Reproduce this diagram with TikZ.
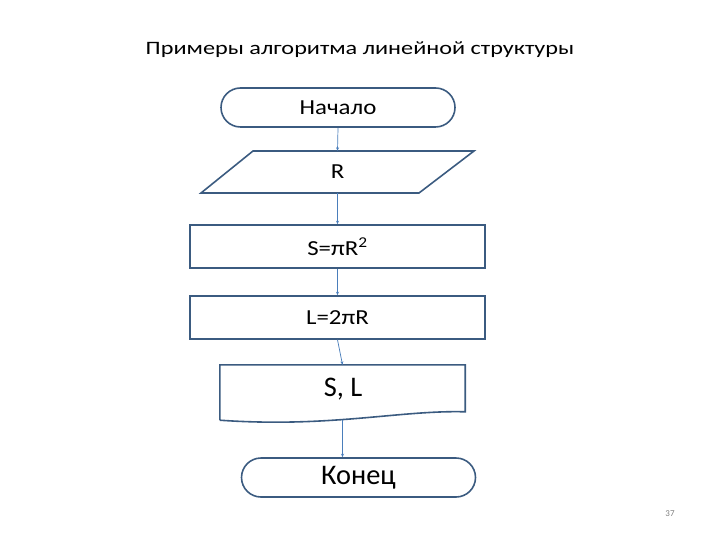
\documentclass[tikz,border=0pt]{standalone}
\usepackage{fontspec}
\setmainfont{Carlito}
\newfontfamily\widefont[FakeStretch=1.16]{Carlito}
\newfontfamily\titlefont[FakeStretch=1.28]{Carlito}
\usetikzlibrary{shapes.misc,arrows.meta}
\definecolor{outl}{HTML}{3B5B80}
\definecolor{conn}{HTML}{4A7EBB}
\tikzset{
  box/.style={draw=outl, line width=1.6pt, minimum width=295bp, minimum height=43bp, inner sep=0pt},
  term/.style={draw=outl, line width=1.6pt, rounded rectangle, minimum width=234bp, minimum height=39bp, inner sep=0pt},
  blank/.style={inner sep=0pt},
  link/.style={draw=conn, line width=0.7pt, -{Stealth[length=3.5bp,width=3bp]}},
  shp/.style={draw=outl, line width=1.6pt, line join=miter},
  lbl/.style={font=\widefont\fontsize{21.5}{24}\selectfont},
  big/.style={font=\fontsize{28.5}{32}\selectfont}
}
\begin{document}
\begin{tikzpicture}[x=1bp,y=-1bp]
\useasboundingbox (0,0) rectangle (720,540);
\node[font=\titlefont\fontsize{19}{22}\selectfont] (title) at (360,50) {Примеры алгоритма линейной структуры};
\node[term, lbl] (start) at (338,107.5) {Начало};
\node[blank, minimum width=221bp, minimum height=42bp, lbl] (inp) at (337.5,172) {R};
\draw[shp] (253,151) -- (474,151) -- (419,193) -- (201,193) -- cycle;
\node[box, lbl] (s) at (337.5,246.5) {S=πR\textsuperscript{2}};
\node[box, lbl] (l) at (337.5,317.5) {L=2πR};
\node[blank, minimum width=245bp, minimum height=55bp] (out) at (342.5,392.5) {};
\node[big] (outt) at (343,389) {S, L};
\draw[shp] (out.south west) -- (out.north west) -- (out.north east) -- ++(0,47)
  .. controls (400,410) and (330,428) .. (out.south west);
\node[term, big] (end) at (358.5,477.5) {Конец};
\node[font=\fontsize{9}{10}\selectfont, text=gray] (pg) at (670,514) {37};
\draw[link] (start.south) -- (inp.north);
\draw[link] (inp.south) -- (s.north);
\draw[link] (s.south) -- (l.north);
\draw[link] (l.south) -- (out.north);
\draw[link] (out.south) -- (out.south |- end.north);
\end{tikzpicture}
\end{document}
